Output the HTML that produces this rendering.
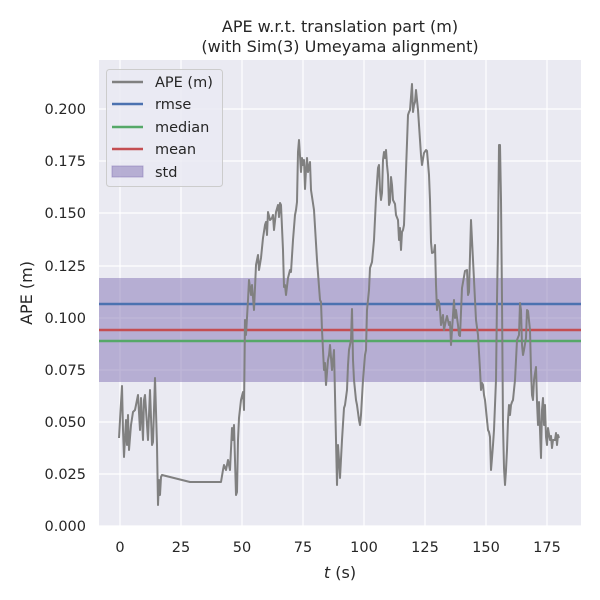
<!DOCTYPE html>
<html><head><meta charset="utf-8"><style>body{margin:0;background:#fff}svg{display:block}text{font-family:"DejaVu Sans","Liberation Sans",sans-serif;fill:#262626}</style></head><body>
<svg width="600" height="600" viewBox="0 0 600 600">
<rect x="99" y="60" width="482" height="466" fill="#eaeaf2"/>
<g stroke="#fff" stroke-width="1.2">
<line x1="120" y1="60" x2="120" y2="526"/><line x1="181" y1="60" x2="181" y2="526"/><line x1="242" y1="60" x2="242" y2="526"/><line x1="303" y1="60" x2="303" y2="526"/><line x1="364" y1="60" x2="364" y2="526"/><line x1="425" y1="60" x2="425" y2="526"/><line x1="486" y1="60" x2="486" y2="526"/><line x1="547" y1="60" x2="547" y2="526"/>
<line x1="99" y1="526" x2="581" y2="526"/><line x1="99" y1="474" x2="581" y2="474"/><line x1="99" y1="422" x2="581" y2="422"/><line x1="99" y1="370" x2="581" y2="370"/><line x1="99" y1="318" x2="581" y2="318"/><line x1="99" y1="266" x2="581" y2="266"/><line x1="99" y1="213" x2="581" y2="213"/><line x1="99" y1="161" x2="581" y2="161"/><line x1="99" y1="109" x2="581" y2="109"/>
</g>
<rect x="99" y="278" width="482" height="104" fill="#8172b3" fill-opacity="0.5"/>
<line x1="99" y1="304" x2="581" y2="304" stroke="#4c72b0" stroke-width="2.5"/>
<line x1="99" y1="341" x2="581" y2="341" stroke="#55a868" stroke-width="2.5"/>
<line x1="99" y1="330" x2="581" y2="330" stroke="#c44e52" stroke-width="2.5"/>
<polyline fill="none" stroke="#808080" stroke-width="2" stroke-linejoin="round" points="119,438 120,420 122,386 123,430 124,457 126,420 127,445 128,415 129,450 131,425 133,412 135,410 138,395 140,430 141,398 143,440 144,400 145,395 147,425 148,440 150,390 152,445 153,442 155,378 157,445 158,505 159,480 160,495 161,477 162,475 190,482 221,482 223,470 224,465 226,470 228,460 230,470 232,428 233,440 234,425 236,495 237,492 238,440 239,418 241,400 243,392 244,410 245,320 246,335 248,300 249,280 251,295 252,285 254,310 256,265 258,255 259,270 261,258 263,238 265,225 266,222 267,235 268,212 270,220 272,218 273,215 274,230 276,212 278,205 279,217 280,203 281,205 283,250 284,287 285,285 286,295 288,278 290,270 291,272 293,240 295,215 296,210 297,202 298,152 299,140 301,172 302,158 303,165 304,160 305,189 306,170 307,158 308,172 310,162 311,190 314,210 317,260 320,300 321,302 322,330 323,350 324,370 325,363 326,385 328,360 329,355 330,345 332,370 334,350 336,440 337,485 338,445 339,460 340,478 342,440 344,408 345,405 347,390 348,365 349,350 351,340 352,309 353,360 354,380 356,400 357,405 359,420 360,425 361,415 363,380 365,355 366,350 367,310 369,290 370,268 372,262 374,240 376,198 378,168 379,165 380,190 381,200 382,193 383,160 384,152 385,158 386,150 387,165 388,175 389,205 390,202 391,177 392,185 393,200 395,204 396,215 398,220 399,240 400,228 401,250 402,232 403,230 404,225 406,170 407,143 408,115 409,112 410,110 411,97 412,84 413,112 414,105 415,102 416,90 418,110 420,140 421,155 422,165 424,153 426,150 427,151 429,175 430,200 431,242 432,253 434,252 435,245 436,285 437,310 438,300 439,302 440,310 441,325 443,315 444,330 446,320 447,316 449,325 450,322 451,345 453,315 454,300 455,318 456,310 458,325 459,335 460,336 462,288 465,271 467,270 468,295 469,292 471,220 473,260 475,300 476,320 478,335 480,370 481,390 482,383 483,385 484,395 485,400 486,410 487,420 488,430 489,432 490,437 491,470 492,458 493,445 494,430 496,380 497,300 498,240 499,145 500,145 501,200 502,300 503,425 504,468 505,485 506,470 507,450 508,420 509,405 510,415 511,405 512,402 513,400 515,380 516,360 517,340 519,335 520,303 521,310 522,345 523,355 524,350 526,338 527,310 528,311 530,330 531,370 532,395 533,400 534,380 536,367 537,402 538,425 539,402 541,458 542,410 543,398 544,425 545,405 546,437 547,445 548,428 550,440 551,436 552,448 553,440 555,440 556,433 557,445 558,435 559,438"/>
<g font-size="14.5">
<text x="120" y="552" text-anchor="middle">0</text><text x="181" y="552" text-anchor="middle">25</text><text x="242" y="552" text-anchor="middle">50</text><text x="303" y="552" text-anchor="middle">75</text><text x="364" y="552" text-anchor="middle">100</text><text x="425" y="552" text-anchor="middle">125</text><text x="486" y="552" text-anchor="middle">150</text><text x="547" y="552" text-anchor="middle">175</text>
<g text-anchor="end"><text x="86" y="531">0.000</text><text x="86" y="479">0.025</text><text x="86" y="427">0.050</text><text x="86" y="375">0.075</text><text x="86" y="323">0.100</text><text x="86" y="271">0.125</text><text x="86" y="218">0.150</text><text x="86" y="166">0.175</text><text x="86" y="114">0.200</text></g>
</g>
<text x="340" y="578" text-anchor="middle" font-size="16"><tspan font-style="italic">t</tspan> (s)</text>
<text transform="translate(32,293) rotate(-90)" text-anchor="middle" font-size="16">APE (m)</text>
<text x="340" y="32" text-anchor="middle" font-size="16">APE w.r.t. translation part (m)</text>
<text x="340" y="52" text-anchor="middle" font-size="16">(with Sim(3) Umeyama alignment)</text>
<rect x="106.5" y="69.5" width="116" height="117" rx="3" fill="#eaeaf2" fill-opacity="0.8" stroke="#cccccc"/>
<g stroke-width="2.5"><line x1="112" y1="82" x2="143" y2="82" stroke="#808080"/><line x1="112" y1="104" x2="143" y2="104" stroke="#4c72b0"/><line x1="112" y1="127" x2="143" y2="127" stroke="#55a868"/><line x1="112" y1="149" x2="143" y2="149" stroke="#c44e52"/></g>
<rect x="112" y="166" width="31" height="11" fill="#8172b3" fill-opacity="0.5" stroke="#8172b3" stroke-opacity="0.5"/>
<g font-size="14.5"><text x="155" y="87">APE (m)</text><text x="155" y="109">rmse</text><text x="155" y="132">median</text><text x="155" y="154">mean</text><text x="155" y="177">std</text></g>
</svg></body></html>
